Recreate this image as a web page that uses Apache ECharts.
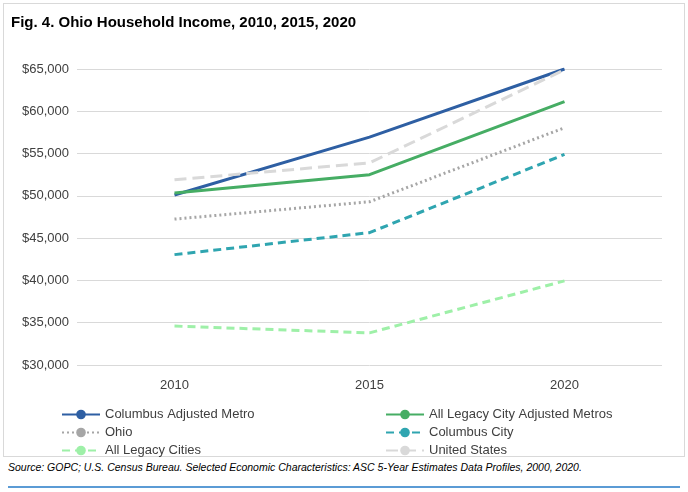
<!DOCTYPE html>
<html><head><meta charset="utf-8">
<script src="https://cdn.jsdelivr.net/npm/echarts@6/dist/echarts.min.js"></script>
<style>
body{margin:0;background:#fff;font-family:Arial,"Liberation Sans",sans-serif;}
#frame{position:absolute;left:3px;top:3px;width:680px;height:452px;border:1px solid #d9d9d9;}
#chart{position:absolute;left:0;top:0;width:688px;height:460px;}
#src{position:absolute;left:8px;top:461px;font-size:10.5px;font-style:italic;color:#000;}
#rule{position:absolute;left:8px;top:486px;width:672px;height:2px;background:#5b9bd5;}
</style></head><body>
<div id="frame"></div>
<div id="chart"></div>
<div id="src">Source: GOPC; U.S. Census Bureau. Selected Economic Characteristics: ASC 5-Year Estimates Data Profiles, 2000, 2020.</div>
<div id="rule"></div>
<script>
var years = ['2010', '2015', '2020'];
var columbusMetro = [50100, 56950, 65000];
var legacyMetros = [50350, 52500, 61150];
var ohio = [47250, 49300, 58050];
var columbusCity = [43050, 45650, 54900];
var legacyCities = [34600, 33800, 39950];
var unitedStates = [51900, 53900, 64900];
var names = ['Columbus Adjusted Metro','All Legacy City Adjusted Metros','Ohio','Columbus City','All Legacy Cities','United States'];

var chart = echarts.init(document.getElementById('chart'));
function s(name, data, color, type){
  return {name:name, type:'line', data:data, symbol:'none',
    lineStyle:{color:color, width:3, type:type}, itemStyle:{color:color}};
}
var legends = names.map(function(n,i){
  return {data:[n], left:(i%2===0)?56:380, top:403+Math.floor(i/2)*18, itemWidth:38, itemHeight:12,
    textStyle:{fontSize:13, color:'#404040'}, selectedMode:false};
});
chart.setOption({
  animation:false,
  title:{text:'Fig. 4. Ohio Household Income, 2010, 2015, 2020', left:6, top:10,
    textStyle:{fontSize:15, fontWeight:'bold', color:'#000', fontFamily:'Arial'}},
  grid:{left:77, right:26, top:69, bottom:95},
  xAxis:{type:'category', data:years, boundaryGap:true,
    axisLine:{show:false}, axisTick:{show:false},
    axisLabel:{fontSize:13, color:'#404040', margin:14}},
  yAxis:{type:'value', min:30000, max:65000, interval:5000,
    axisLabel:{fontSize:13, color:'#404040', formatter:function(v){return '$'+v.toLocaleString('en-US');}},
    splitLine:{lineStyle:{color:'#d9d9d9'}}},
  legend:legends,
  series:[
    s(names[0], columbusMetro, '#2e5fa3', 'solid'),
    s(names[1], legacyMetros, '#46ad64', 'solid'),
    s(names[2], ohio, '#a6a6a6', [2,3]),
    s(names[3], columbusCity, '#2fa5b0', [8,5]),
    s(names[4], legacyCities, '#9ef0a8', [8,5]),
    s(names[5], unitedStates, '#d9d9d9', [12,6])
  ]
});
</script>
</body></html>
